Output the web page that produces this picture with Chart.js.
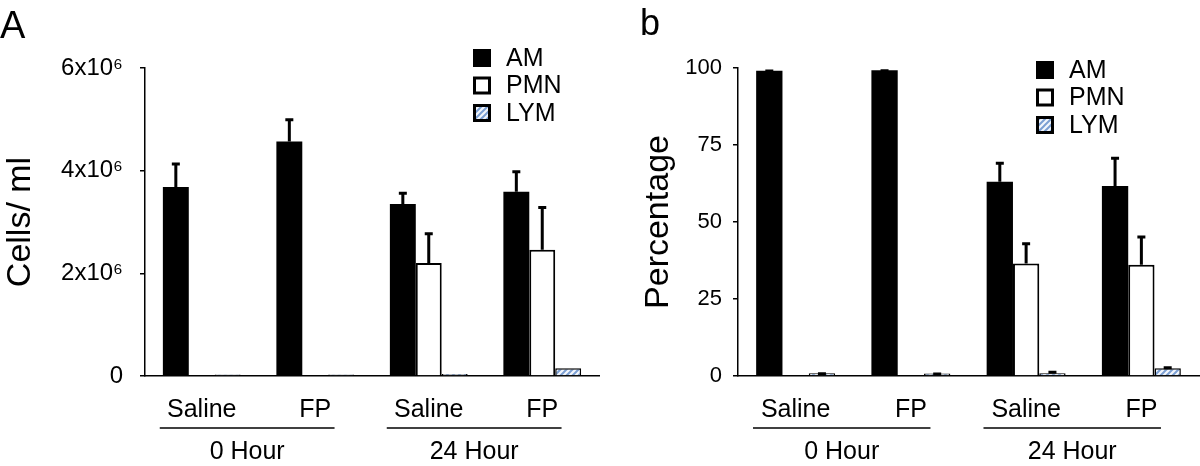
<!DOCTYPE html>
<html>
<head>
<meta charset="utf-8">
<script src="https://cdn.jsdelivr.net/npm/chart.js@4/dist/chart.umd.min.js"></script>
<style>
  body { margin: 0; background: #fff; }
  #wrap { position: relative; width: 1200px; height: 466px; font-family: 'Liberation Sans', Arial, Helvetica, sans-serif; }
  .panel { position: absolute; top: 0; width: 600px; height: 466px; }
  .tag { position: absolute; line-height: 1; color: #000; }
</style>
</head>
<body>
<div id="wrap">
  <div class="panel" style="left:0"><canvas id="cellsChart"></canvas></div>
  <div class="panel" style="left:600px"><canvas id="pctChart"></canvas></div>
  <div class="tag" style="left:0;top:6px;font-size:38px">A</div>
  <div class="tag" style="left:640px;top:5px;font-size:36px">b</div>
</div>
<script>
const FONT = "'Liberation Sans', Arial, Helvetica, sans-serif";

const groups = ['Saline', 'FP', 'Saline', 'FP'];
const hours = ['0 Hour', '24 Hour'];
const seriesNames = ['AM', 'PMN', 'LYM'];

// panel A - cells/ml
const amCells = [3.68e6, 4.57e6, 3.35e6, 3.59e6];
const amCellsErr = [0.48e6, 0.45e6, 0.24e6, 0.42e6];
const pmnCells = [0, 0, 2.2e6, 2.46e6];
const pmnCellsErr = [0, 0, 0.6e6, 0.85e6];
const lymCells = [0.03e6, 0.03e6, 0.04e6, 0.15e6];
const lymCellsErr = [0, 0, 0, 0];
const cellTicks = [0, 2e6, 4e6, 6e6];

// panel b - percentage
const amPct = [99.1, 99.3, 63.1, 61.7];
const amPctErr = [0.4, 0.3, 6.5, 9.5];
const pmnPct = [0, 0, 36.5, 36.1];
const pmnPctErr = [0, 0, 6.9, 9.5];
const lymPct = [0.9, 0.8, 0.9, 2.5];
const lymPctErr = [0.3, 0.3, 0.8, 0.7];
const pctTicks = [0, 25, 50, 75, 100];

Chart.defaults.font.family = FONT;
Chart.defaults.color = '#000';

function hatch(ctx) {
  const c = document.createElement('canvas');
  c.width = 6; c.height = 6;
  const g = c.getContext('2d');
  g.fillStyle = '#f2f6fc';
  g.fillRect(0, 0, 6, 6);
  g.strokeStyle = '#7b9fd3';
  g.lineWidth = 2;
  g.beginPath();
  g.moveTo(0, 6); g.lineTo(6, 0);
  g.moveTo(-3, 3); g.lineTo(3, -3);
  g.moveTo(3, 9); g.lineTo(9, 3);
  g.stroke();
  return ctx.createPattern(c, 'repeat');
}

// error bars (upper only)
const errorBars = {
  id: 'errorBars',
  afterDatasetsDraw(chart) {
    const ctx = chart.ctx, y = chart.scales.y;
    ctx.save();
    ctx.strokeStyle = '#000';
    ctx.lineWidth = 3;
    chart.data.datasets.forEach((ds, i) => {
      chart.getDatasetMeta(i).data.forEach((bar, j) => {
        const err = ds.errors[j];
        if (!err) return;
        const top = y.getPixelForValue(ds.data[j] + err);
        ctx.beginPath();
        ctx.moveTo(bar.x, bar.y);
        ctx.lineTo(bar.x, top);
        ctx.moveTo(bar.x - 4, top + 1.5);
        ctx.lineTo(bar.x + 4, top + 1.5);
        ctx.stroke();
      });
    });
    ctx.restore();
  }
};

// "0 Hour" / "24 Hour" under pairs of categories
const hourGroups = {
  id: 'hourGroups',
  afterDraw(chart) {
    const ctx = chart.ctx, x = chart.scales.x;
    const cw = x.getPixelForValue(1) - x.getPixelForValue(0);
    const base = chart.chartArea.bottom;
    ctx.save();
    ctx.strokeStyle = '#000';
    ctx.lineWidth = 1.5;
    ctx.fillStyle = '#000';
    ctx.font = '25px ' + FONT;
    ctx.textAlign = 'center';
    ctx.textBaseline = 'alphabetic';
    hours.forEach((h, k) => {
      const a = x.getPixelForValue(2 * k) - 0.37 * cw;
      const b = x.getPixelForValue(2 * k + 1) + 0.17 * cw;
      ctx.beginPath();
      ctx.moveTo(a, base + 52);
      ctx.lineTo(b, base + 52);
      ctx.stroke();
      ctx.fillText(h, (a + b) / 2, base + 83);
    });
    ctx.restore();
  }
};

// little box legend in the top right
const boxLegend = {
  id: 'boxLegend',
  afterDraw(chart, args, opts) {
    const ctx = chart.ctx;
    ctx.save();
    chart.data.datasets.forEach((ds, i) => {
      const x = opts.x, y = opts.y + i * 27.5;
      ctx.fillStyle = ds.backgroundColor;
      ctx.fillRect(x, y, 18, 18);
      if (ds.borderWidth) {
        ctx.strokeStyle = '#000';
        ctx.lineWidth = 3;
        ctx.strokeRect(x + 1.5, y + 1.5, 15, 15);
      }
      ctx.fillStyle = '#000';
      ctx.font = '25px ' + FONT;
      ctx.textAlign = 'left';
      ctx.textBaseline = 'middle';
      ctx.fillText(ds.label, x + 33, y + 10);
    });
    ctx.restore();
  }
};

function makeChart(id, d, opt) {
  const ctx = document.getElementById(id).getContext('2d');
  return new Chart(ctx, {
    type: 'bar',
    data: {
      labels: groups,
      datasets: [
        { label: seriesNames[0], data: d.am, errors: d.amErr, backgroundColor: '#000', borderWidth: 0 },
        { label: seriesNames[1], data: d.pmn, errors: d.pmnErr, backgroundColor: '#fff', borderColor: '#000', borderWidth: 2 },
        { label: seriesNames[2], data: d.lym, errors: d.lymErr, backgroundColor: hatch(ctx), borderColor: '#000', borderWidth: 1.5 },
      ],
    },
    options: {
      responsive: true,
      maintainAspectRatio: false,
      animation: false,
      categoryPercentage: 0.685,
      barPercentage: 1,
      layout: { padding: { top: 68, right: 1, left: 0, bottom: 0 } },
      plugins: {
        legend: { display: false },
        tooltip: { enabled: false },
        boxLegend: opt.legend,
      },
      scales: {
        x: {
          grid: { display: false, drawTicks: false },
          border: { color: '#000', width: 1.5 },
          ticks: { color: '#000', font: { size: 25 }, padding: 19 },
          afterFit: s => { s.height = 90; },
        },
        y: {
          min: 0,
          max: opt.max,
          afterBuildTicks: s => { s.ticks = opt.ticks.map(v => ({ value: v })); },
          grid: { drawOnChartArea: false, tickLength: 5, color: '#000', lineWidth: 1.5 },
          border: { color: '#000', width: 1.5 },
          ticks: { color: '#000', font: { size: opt.tickSize }, padding: opt.tickPad, callback: opt.fmt },
          title: { display: true, text: opt.title, color: '#000', font: { size: 34 }, padding: { top: opt.titlePad, bottom: 0 } },
          afterFit: s => { s.width = opt.axisWidth; },
        },
      },
    },
    plugins: [errorBars, hourGroups, boxLegend],
  });
}

makeChart('cellsChart',
  { am: amCells, amErr: amCellsErr, pmn: pmnCells, pmnErr: pmnCellsErr, lym: lymCells, lymErr: lymCellsErr },
  { max: 6e6, ticks: cellTicks, tickSize: 24, tickPad: 17, title: 'Cells/ ml', titlePad: 0, axisWidth: 145,
    fmt: v => v === 0 ? '0' : (v / 1e6) + 'x10\u2076', legend: { x: 473, y: 49 } });

makeChart('pctChart',
  { am: amPct, amErr: amPctErr, pmn: pmnPct, pmnErr: pmnPctErr, lym: lymPct, lymErr: lymPctErr },
  { max: 100, ticks: pctTicks, tickSize: 22, tickPad: 11, title: 'Percentage', titlePad: 38, axisWidth: 138,
    fmt: v => String(v), legend: { x: 436, y: 61 } });
</script>
</body>
</html>
